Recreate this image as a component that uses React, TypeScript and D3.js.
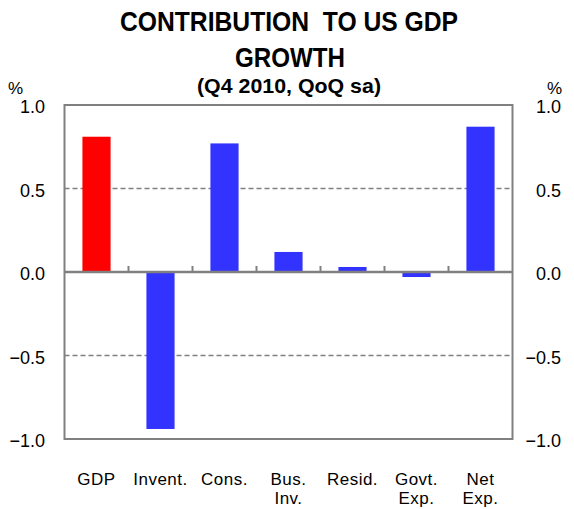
import React from "react";
import * as d3 from "d3";

const categories: string[][] = [
  ["GDP"],
  ["Invent."],
  ["Cons."],
  ["Bus.", "Inv."],
  ["Resid."],
  ["Govt.", "Exp."],
  ["Net", "Exp."],
];
const values: number[] = [0.81, -0.94, 0.77, 0.12, 0.03, -0.03, 0.87];
const barColors: string[] = ["#FF0000", "#3333FF", "#3333FF", "#3333FF", "#3333FF", "#3333FF", "#3333FF"];
const yTicks: number[] = [1.0, 0.5, 0.0, -0.5, -1.0];
const titleLines: string[] = ["CONTRIBUTION\u00a0 TO US GDP", "GROWTH"];
const subtitle = "(Q4 2010, QoQ sa)";
const unitLabel = "%";

export default function App() {
  const W = 574, H = 509;
  const left = 64.5, right = 512.5, top = 105, bottom = 439;
  const keys = categories.map((_, i) => String(i));
  const x = d3.scaleBand<string>().domain(keys).range([left, right]).paddingInner(0.56).paddingOuter(0.28);
  const y = d3.scaleLinear().domain([-1, 1]).range([bottom, top]);
  const step = x.step();
  const font = "Liberation Sans, Arial, sans-serif";
  const gray = "#808080";

  return (
    <svg width={W} height={H} style={{ position: "absolute", left: 0, top: 0 }} fontFamily={font}>
      <rect x={0} y={0} width={W} height={H} fill="#fff" />
      {/* titles */}
      <text x={289} y={31} textAnchor="middle" fontWeight="bold" fontSize={28} textLength={338} lengthAdjust="spacingAndGlyphs">{titleLines[0]}</text>
      <text x={290} y={67} textAnchor="middle" fontWeight="bold" fontSize={28} textLength={110} lengthAdjust="spacingAndGlyphs">{titleLines[1]}</text>
      <text x={289} y={93} textAnchor="middle" fontWeight="bold" fontSize={21} textLength={184} lengthAdjust="spacingAndGlyphs">{subtitle}</text>
      <text x={8} y={94} fontSize={17}>{unitLabel}</text>
      <text x={562} y={94} fontSize={17} textAnchor="end">{unitLabel}</text>

      {/* gridlines */}
      {yTicks.filter((t) => Math.abs(t) === 0.5).map((t) => (
        <line key={"g" + t} x1={left} x2={right} y1={y(t)} y2={y(t)} stroke={gray} strokeWidth={1.5} strokeDasharray="5,3" />
      ))}

      {/* bars */}
      {values.map((v, i) => (
        <rect
          key={"b" + i}
          x={x(String(i))!}
          width={x.bandwidth()}
          y={y(Math.max(0, v))}
          height={Math.abs(y(v) - y(0))}
          fill={barColors[i]}
        />
      ))}

      {/* frame */}
      <rect x={left} y={top} width={right - left} height={bottom - top} fill="none" stroke={gray} strokeWidth={2} />
      {/* zero line */}
      <line x1={left} x2={right} y1={y(0)} y2={y(0)} stroke={gray} strokeWidth={2.5} />
      {d3.range(1, categories.length).map((i) => (
        <line key={"t" + i} x1={left + step * i} x2={left + step * i} y1={y(0)} y2={y(0) - 6} stroke={gray} strokeWidth={2} />
      ))}

      {/* y labels */}
      {yTicks.map((t) => (
        <g key={"yl" + t} fontSize={18} fill="#000">
          <text x={45} y={y(t) + 2} dy="0.35em" textAnchor="end">{d3.format(".1f")(t)}</text>
          <text x={561} y={y(t) + 2} dy="0.35em" textAnchor="end">{d3.format(".1f")(t)}</text>
        </g>
      ))}

      {/* x labels */}
      {categories.map((lines, i) => (
        <text key={"xl" + i} x={x(String(i))! + x.bandwidth() / 2} y={485} fontSize={17} letterSpacing={0.5} textAnchor="middle">
          {lines.map((l, j) => (
            <tspan key={j} x={x(String(i))! + x.bandwidth() / 2} dy={j === 0 ? 0 : 19}>{l}</tspan>
          ))}
        </text>
      ))}
    </svg>
  );
}
